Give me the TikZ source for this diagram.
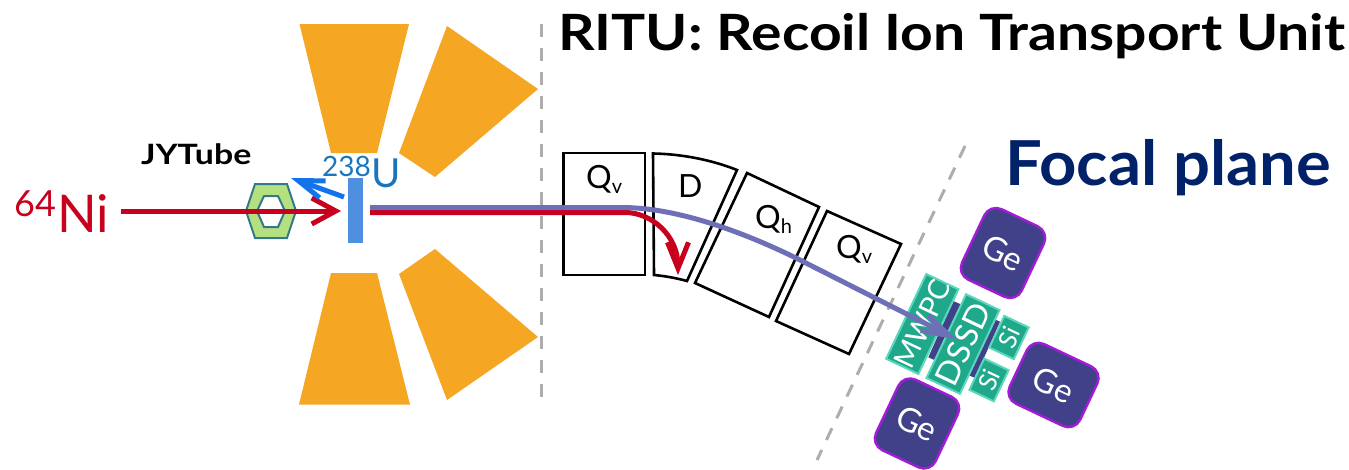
\documentclass[tikz,border=0pt]{standalone}
\usepackage{fontspec}
\setmainfont{Lato}
\usetikzlibrary{arrows.meta,calc}
\definecolor{magnet}{HTML}{F5A623}
\definecolor{beamred}{HTML}{C8001E}
\definecolor{beampurple}{HTML}{6F6FB7}
\definecolor{targetblue}{HTML}{4E8FE0}
\definecolor{recoilblue}{HTML}{1273EB}
\definecolor{ulabel}{HTML}{1B75BC}
\definecolor{navy}{HTML}{012169}
\definecolor{hexgreen}{HTML}{B5E07F}
\definecolor{hexteal}{HTML}{34798A}
\definecolor{detgreen}{HTML}{1FA98A}
\definecolor{detedge}{HTML}{5CD6BC}
\definecolor{gefill}{HTML}{41418A}
\definecolor{geedge}{HTML}{A21CD8}
\newcommand{\fs}[1]{\fontsize{#1}{#1}\selectfont}
\tikzset{
  magnetshape/.style={fill=magnet,draw=none},
  guide/.style={draw=black!32,line width=3pt,dash pattern=on 13pt off 11pt},
  elem/.style={draw=black,line width=2.6pt,fill=white,line join=miter},
  lab/.style={inner sep=0pt,font=\fs{32}},
  det/.style={fill=detgreen,draw=detedge,line width=2pt,inner sep=0pt,rotate=64.7,text=white,font=\fs{29}},
  gebox/.style={fill=gefill,draw=geedge,line width=2.4pt,rounded corners=13pt,rotate=-25.3,text=white,font=\fs{33},inner sep=0pt},
  redbeam/.style={draw=beamred,line width=5pt},
  purplebeam/.style={draw=beampurple,line width=5pt},
}
\begin{document}
\begin{tikzpicture}[x=1pt,y=-1pt]
\useasboundingbox (0,0) rectangle (1349,469);
% magnets
\fill[magnetshape] (299.5,24) -- (409,24) -- (377,153) -- (331,153) -- cycle;
\fill[magnetshape] (447,26) -- (538,89) -- (435,177) -- (399,153) -- cycle;
\fill[magnetshape] (331,273) -- (377,273) -- (410,404.5) -- (299,404.5) -- cycle;
\fill[magnetshape] (435,249) -- (538,337) -- (447,400) -- (399,274) -- cycle;
% guides
\coordinate (g1a) at (541,24); \coordinate (g1b) at (541,404);
\coordinate (g2a) at (965,146); \coordinate (g2b) at (817,460);
\draw[guide] (g1a) -- (g1b);
\draw[guide] (g2a) -- (g2b);
% optical elements
\draw[elem] (563.5,153) rectangle (645,275);
\draw[elem] (653,153.5) .. controls (682,154) and (712,160) .. (737,170) -- (687,281) .. controls (676,278) and (665,276) .. (654,275) -- cycle;
\draw[elem] (747,173) -- (819,207) -- (769,317) -- (695,283) -- cycle;
\draw[elem] (827,211) -- (901,244) -- (849,354) -- (776,321) -- cycle;
\node[lab,anchor=base west] (qv1) at (586,188) {Q\raisebox{-5pt}{\fs{20}v}};
\node[lab,anchor=base west] (d) at (678,197) {D};
\node[lab,anchor=base west] (qh) at (755,228) {Q\raisebox{-5pt}{\fs{20}h}};
\node[lab,anchor=base west] (qv2) at (836,258) {Q\raisebox{-5pt}{\fs{20}v}};
% detectors
\path[fill=gefill] (953.3,301) -- (1000,321.7) -- (975,378) -- (928.3,357.3) -- cycle;
\node[det,minimum width=92.6pt,minimum height=35.6pt] (mwpc) at (922.3,324) {MWPC};
\node[det,minimum width=92.6pt,minimum height=37pt] (dssd) at (963,344) {\fs{32}\scalebox{1.04}[1]{DSSD}};
\node[det,minimum width=35pt,minimum height=27pt] (si1) at (1009,337.5) {\fs{25}Si};
\node[det,minimum width=34.5pt,minimum height=27pt] (si2) at (989,380) {\fs{25}Si};
\node[gebox,minimum width=66pt,minimum height=78pt] (ge1) at (1003,253) {Ge};
\node[gebox,minimum width=78pt,minimum height=66pt] (ge2) at (1053.5,385) {Ge};
\node[gebox,minimum width=66pt,minimum height=78pt] (ge3) at (917,423.5) {Ge};
% target and jytube
\node[fill=targetblue,inner sep=0pt,minimum width=15pt,minimum height=65pt] (target) at (355.5,210.5) {};
\path[fill=hexgreen,draw=hexteal,line width=2pt,line join=miter] (246,211) -- (255,184) -- (287,184) -- (296,211) -- (287,238) -- (255,238) -- cycle;
\path[fill=white,draw=hexteal,line width=2pt,line join=miter] (257,211) -- (264,196) -- (278,196) -- (285,211) -- (278,227) -- (264,227) -- cycle;
% beams
\coordinate (nistart) at (121,211);
\coordinate (tgtfront) at (341,211);
\coordinate (rstart) at (370,212.5);
\coordinate (pstart) at (370,207.5);
\coordinate (rtip) at (678,275);
\coordinate (ptip) at (957,339.5);
\coordinate (rcoilstart) at (344,197);
\coordinate (rcoilend) at (291,178);
\draw[redbeam,-{Straight Barb[length=24pt,width=26pt,line width=5pt]}] (nistart) -- (tgtfront);
\draw[recoilblue,line width=5pt,-{Straight Barb[length=26pt,width=18pt,line width=5pt]}] (rcoilstart) -- (rcoilend);
\draw[redbeam,-{Straight Barb[length=26pt,width=21pt,line width=5pt]}] (rstart) -- (625,212.5) .. controls (652,212.5) and (678,236) .. (rtip);
\draw[purplebeam,-{Straight Barb[length=28pt,width=17pt,line width=5pt]}] (pstart) -- (622,207.5) .. controls (680,207.5) and (750,235) .. (800,260) -- (ptip);
% labels
\node[inner sep=0pt,anchor=base west,text=ulabel,font=\fs{28}] (u238) at (322,176) {238};
\node[inner sep=0pt,anchor=base west,text=ulabel,font=\fs{40}] (u) at (371,187) {U};
\node[inner sep=0pt,anchor=base west,text=beamred,font=\fs{36}] (n64) at (14,216) {64};
\node[inner sep=0pt,anchor=base west,text=beamred,font=\fs{52}] (ni) at (57,232) {Ni};
\node[inner sep=0pt,anchor=base west,font=\bfseries\fs{28}] (jy) at (141,164) {\scalebox{1.21}[1]{JYTube}};
\node[inner sep=0pt,anchor=base west,font=\bfseries\fs{50}] (title) at (558,50) {\scalebox{1.14}[1]{RITU: Recoil Ion Transport Unit}};
\node[inner sep=0pt,anchor=base west,text=navy,font=\bfseries\fs{62}] (fp) at (1005,185) {\scalebox{1.05}[1]{Focal plane}};
\end{tikzpicture}
\end{document}
